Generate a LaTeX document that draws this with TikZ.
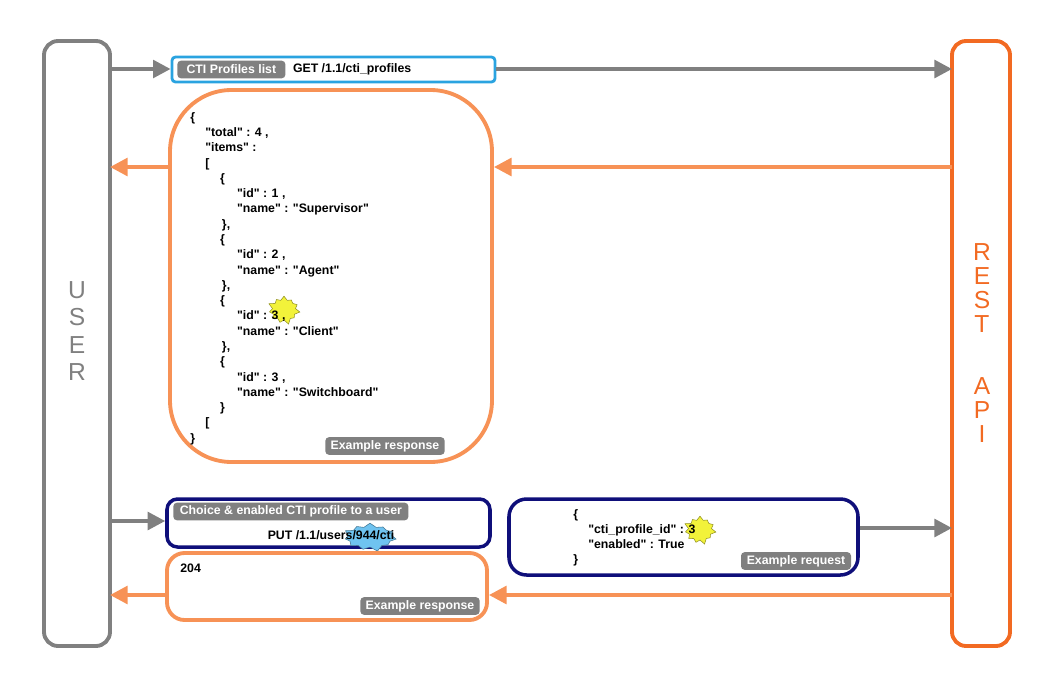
\documentclass[tikz,border=0pt]{standalone}
\usepackage{fontspec}
\setmainfont{Liberation Sans}[Ligatures=TeXOff]
\usetikzlibrary{positioning,arrows.meta,shapes.symbols}
\definecolor{restorange}{HTML}{F26A22}
\definecolor{resporange}{HTML}{F79256}
\definecolor{linegray}{HTML}{808080}
\definecolor{navy}{HTML}{0F0F7A}
\definecolor{skyblue}{HTML}{2AA3E0}
\definecolor{burstblue}{HTML}{6FC3F0}
\definecolor{burstyellow}{HTML}{F2F23A}
\tikzset{
  txt/.style={font=\fontsize{7}{8}\selectfont\bfseries, inner sep=0pt},
  tag/.style={fill=linegray, text=white, rounded corners=2pt, txt, inner xsep=3pt, minimum height=10pt},
  flow/.style={line width=2.2pt, -{Triangle[length=10pt,width=10pt]}},
  burst/.style={starburst, starburst points=11, starburst point height=3pt, inner sep=0.5pt, draw=#1!60!black, fill=#1, line width=0.3pt},
}
\newcommand{\ind}[1]{\hspace*{#1pt}}
\begin{document}
\begin{tikzpicture}[x=0.02cm,y=-0.02cm]
  \useasboundingbox (0,0) rectangle (1056,684);
  % actors
  \draw[linegray, line width=2.2pt, rounded corners=8pt] (44,41) rectangle (110,646);
  \node[txt, font=\fontsize{14}{15.5}\selectfont, text=linegray, align=center] (user) at (77,331) {U\\S\\E\\R};
  \draw[restorange, line width=2.2pt, rounded corners=8pt] (952,41) rectangle (1010,646);
  \node[txt, font=\fontsize{14}{13.6}\selectfont, text=restorange, align=center] (rest) at (982,343) {R\\E\\S\\T\\[22pt]A\\P\\I};
  \coordinate (u1) at (110,69);  \coordinate (r1) at (952,69);
  \coordinate (u2) at (110,167); \coordinate (r2) at (952,167);
  \coordinate (u3) at (110,521); \coordinate (r3) at (952,528);
  \coordinate (u4) at (110,595); \coordinate (r4) at (952,595);

  % list request
  \node[draw=skyblue, line width=1.6pt, rounded corners=2pt, minimum width=323*0.02cm, minimum height=25*0.02cm, inner sep=0pt] (get) at (333.5,69.5) {};
  \node[tag, minimum width=108*0.02cm, anchor=west] (gettag) at (177,69.5) {CTI Profiles list};
  \node[txt, anchor=west, right=7*0.02cm of gettag] (geturl) {GET /1.1/cti\_profiles};
  \draw[flow, linegray] (u1) -- (get.west |- u1);
  \draw[flow, linegray] (get.east |- r1) -- (r1);

  % list response
  \node[draw=resporange, line width=2.2pt, rounded corners=35pt, minimum width=322*0.02cm, minimum height=372*0.02cm, inner sep=0pt] (listresp) at (331,276) {};
  \node[burst=burstyellow] (star1) at (284,310) {\phantom{:3}};
  \node[txt, anchor=north west, align=left, font=\fontsize{7}{8.7}\selectfont\bfseries] (json) at (190,112) {%
    \{\\
    \ind{8.5}"total" : 4 ,\\
    \ind{8.5}"items" :\\
    \ind{8.5}[\\
    \ind{17}\{\\
    \ind{26.6}"id" : 1 ,\\
    \ind{26.6}"name" : "Supervisor"\\
    \ind{18}\},\\
    \ind{17}\{\\
    \ind{26.6}"id" : 2 ,\\
    \ind{26.6}"name" : "Agent"\\
    \ind{18}\},\\
    \ind{17}\{\\
    \ind{26.6}"id" : 3 ,\\
    \ind{26.6}"name" : "Client"\\
    \ind{18}\},\\
    \ind{17}\{\\
    \ind{26.6}"id" : 3 ,\\
    \ind{26.6}"name" : "Switchboard"\\
    \ind{17}\}\\
    \ind{8.5}[\\
    \}};
  \node[tag, minimum width=110*0.02cm] (listtag) at (385,446) {Example response};
  \draw[flow, resporange] (r2) -- (listresp.east |- r2);
  \draw[flow, resporange] (listresp.west |- u2) -- (u2);

  % put request
  \node[draw=navy, line width=2pt, rounded corners=6pt, minimum width=323*0.02cm, minimum height=48*0.02cm, inner sep=0pt] (put) at (328.5,523) {};
  \node[tag, minimum width=235*0.02cm, anchor=west] (puttag) at (173,511.5) {Choice \& enabled CTI profile to a user};
  \node[burst=burstblue] (star2) at (370,537) {\phantom{944}};
  \node[txt] (puturl) at (331,535) {PUT /1.1/users/944/cti};
  \draw[flow, linegray] (u3) -- (put.west |- u3);

  \node[draw=navy, line width=2pt, rounded corners=10pt, minimum width=349*0.02cm, minimum height=76*0.02cm, inner sep=0pt] (body) at (683.5,537) {};
  \node[burst=burstyellow] (star3) at (700,530) {\phantom{:3}};
  \node[txt, anchor=north west, align=left, font=\fontsize{7}{8.5}\selectfont\bfseries] (bodytxt) at (573,509) {%
    \{\\
    \ind{8.5}"cti\_profile\_id" : 3\\
    \ind{8.5}"enabled" : True\\
    \}};
  \node[tag, minimum width=110*0.02cm] (bodytag) at (796,561) {Example request};
  \draw[flow, linegray] (body.east |- r3) -- (r3);

  % put response
  \node[draw=resporange, line width=2.2pt, rounded corners=10pt, minimum width=320*0.02cm, minimum height=67*0.02cm, inner sep=0pt] (putresp) at (327,586.5) {};
  \node[txt, anchor=west] (code) at (180,568) {204};
  \node[tag, minimum width=108*0.02cm] (resptag) at (420,606) {Example response};
  \draw[flow, resporange] (r4) -- (putresp.east |- r4);
  \draw[flow, resporange] (putresp.west |- u4) -- (u4);
\end{tikzpicture}
\end{document}
